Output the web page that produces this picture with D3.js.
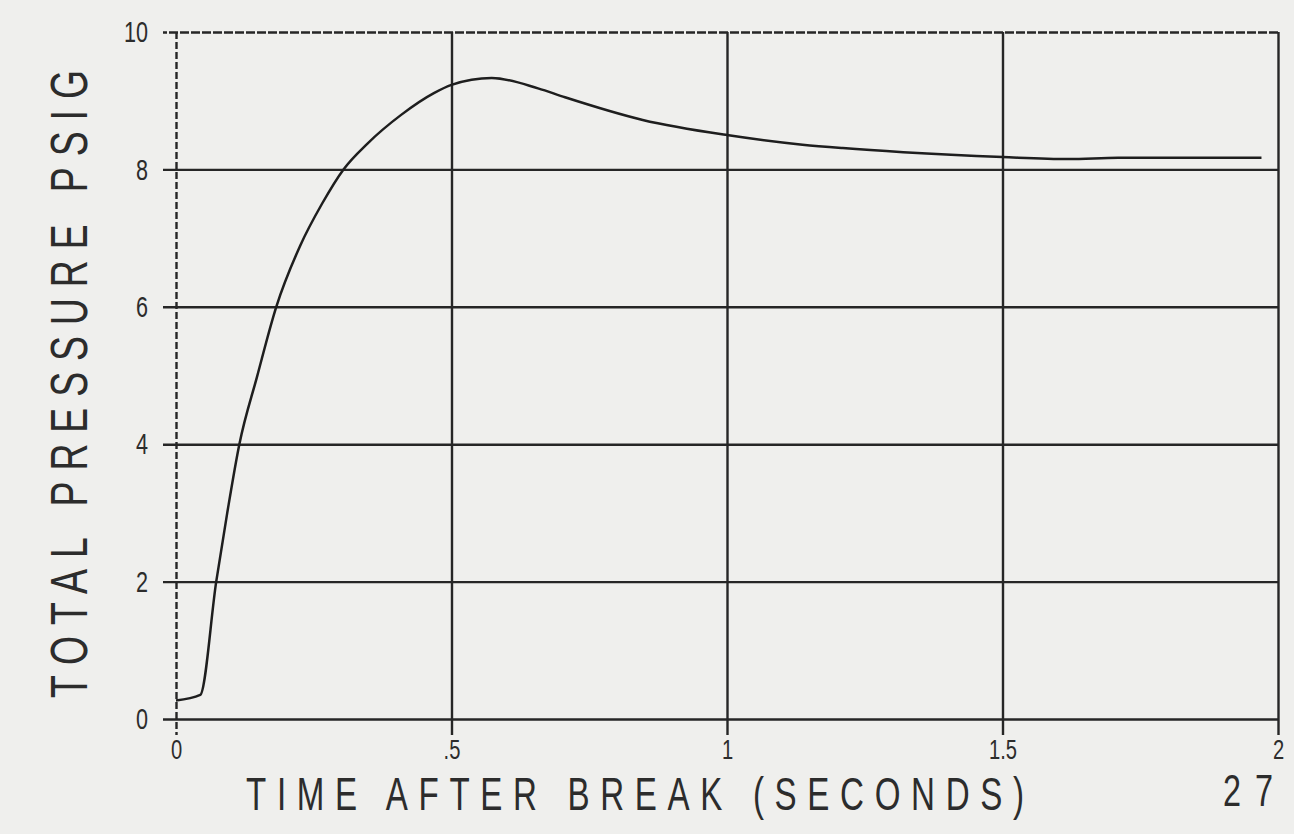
<!DOCTYPE html>
<html>
<head>
<meta charset="utf-8">
<script src="https://cdn.jsdelivr.net/npm/d3@7"></script>
<style>
  html, body { margin: 0; padding: 0; background: #efefed; }
  svg { display: block; }
  text { font-family: "Liberation Sans", Arial, sans-serif; fill: #2c2c2c; }
</style>
</head>
<body>
<svg id="chart" width="1294" height="834"></svg>
<script>
// Pressure transient after the break
const timeSec = [0, 0.044, 0.073, 0.093, 0.115, 0.147, 0.182, 0.226, 0.265, 0.304, 0.348, 0.408,
                 0.468, 0.5, 0.573, 0.657, 0.706, 0.847, 1.0, 1.137, 1.21, 1.32, 1.5, 1.62, 1.71, 1.97];
const pressurePsig = [0.27, 0.35, 2.0, 3.0, 4.0, 4.98, 6.0, 6.9, 7.5, 8.0, 8.38, 8.79,
                      9.11, 9.23, 9.33, 9.18, 9.05, 8.72, 8.50, 8.36, 8.31, 8.25, 8.18, 8.15, 8.17, 8.17];

const xTicks = [0, 0.5, 1, 1.5, 2];
const xTickLabels = ["0", ".5", "1", "1.5", "2"];
const yTicks = [0, 2, 4, 6, 8, 10];
const yTickLabels = ["0", "2", "4", "6", "8", "10"];

const xTitle = "TIME AFTER BREAK (SECONDS)";
const yTitle = "TOTAL PRESSURE PSIG";
const pageNumber = "27";

(function draw() {
  const svg = d3.select("#chart");
  const plotLeft = 176, plotRight = 1278, plotTop = 32, plotBottom = 719;
  const gridLeft = 163;
  const ink = "#262626";
  const narrow = 0.72;   // horizontal squeeze for the plotter-style lettering

  const x = d3.scaleLinear().domain([0, 2]).range([plotLeft, plotRight]);
  const y = d3.scaleLinear().domain([0, 10]).range([plotBottom, plotTop]);

  // vertical grid lines run from the top of the frame to just below the zero line
  const xTickLen = plotBottom - plotTop + 16;
  const xAxis = d3.axisBottom(x)
    .tickValues(xTicks)
    .tickFormat((d, i) => xTickLabels[i])
    .tickSize(xTickLen);
  const gx = svg.append("g").attr("transform", `translate(0,${plotTop})`).call(xAxis);
  gx.select(".domain").remove();
  gx.selectAll(".tick line").attr("stroke", ink).attr("stroke-width", 2.4)
    .attr("stroke-dasharray", (d) => d === 0 ? "7,3" : null);
  gx.selectAll(".tick text")
    .attr("font-size", 28).attr("fill", "#333")
    .attr("y", 0).attr("dy", null)
    .attr("transform", `translate(0,${759 - plotTop}) scale(${narrow},1)`);

  // horizontal grid lines reach a little past the left axis
  const yTickLen = plotRight - gridLeft;
  const yAxis = d3.axisLeft(y)
    .tickValues(yTicks)
    .tickFormat((d, i) => yTickLabels[i])
    .tickSize(yTickLen);
  const gy = svg.append("g").attr("transform", `translate(${plotRight},0)`).call(yAxis);
  gy.select(".domain").remove();
  gy.selectAll(".tick line").attr("stroke", ink).attr("stroke-width", 2.4)
    .attr("stroke-dasharray", (d) => d === 10 ? "9,2" : null);
  gy.selectAll(".tick text")
    .attr("font-size", 30).attr("fill", "#333")
    .attr("x", 0)
    .attr("transform", `translate(${-(yTickLen + 15)},0) scale(${narrow},1)`);

  // pressure curve
  const line = d3.line()
    .x((d, i) => x(timeSec[i]))
    .y((d) => y(d))
    .curve(d3.curveMonotoneX);
  svg.append("path")
    .datum(pressurePsig)
    .attr("fill", "none")
    .attr("stroke", "#1e1e1e")
    .attr("stroke-width", 2.5)
    .attr("stroke-linejoin", "round")
    .attr("d", line);

  // axis titles
  svg.append("text")
    .attr("transform", `translate(246,810) scale(${narrow},1)`)
    .attr("font-size", 46)
    .attr("textLength", 778 / narrow).attr("lengthAdjust", "spacing")
    .text(xTitle);

  svg.append("text")
    .attr("transform", `translate(87,698) rotate(-90) scale(${narrow},1)`)
    .attr("font-size", 52)
    .attr("textLength", 628 / narrow).attr("lengthAdjust", "spacing")
    .text(yTitle);

  svg.append("text")
    .attr("transform", `translate(1223,806) scale(${narrow},1)`)
    .attr("font-size", 45)
    .attr("textLength", 50 / narrow).attr("lengthAdjust", "spacing")
    .text(pageNumber);
})();
</script>
</body>
</html>
